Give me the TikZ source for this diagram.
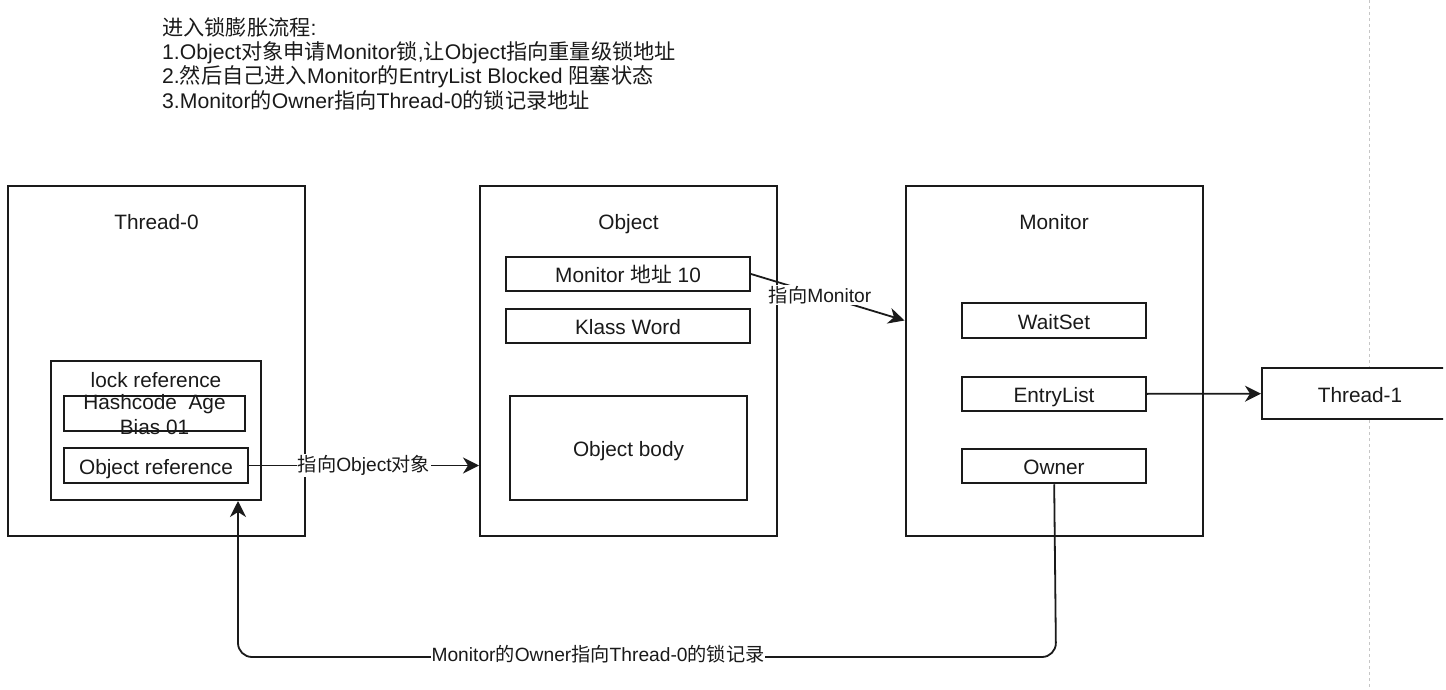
\documentclass[tikz,border=0pt]{standalone}
\usepackage{fontspec}
\setmainfont{Liberation Sans}
\newfontfamily\cjk{Noto Sans CJK SC}
\newcommand\zh[1]{{\cjk #1}}
\usetikzlibrary{arrows.meta}
\definecolor{ink}{HTML}{1A1A1A}
\tikzset{
  bigbox/.style={draw=ink, line width=2pt, fill=white, inner sep=0pt,
    minimum width=297pt, minimum height=350pt},
  field/.style={draw=ink, line width=2pt, fill=white, inner sep=0pt,
    text height=17.5pt, text depth=0.5pt, minimum width=#1, minimum height=34.5pt},
  field/.default=184pt,
  boxlabel/.style={anchor=center, text height=17.5pt, text depth=0.5pt},
  link/.style={draw=ink, line width=1.8pt, -{Stealth[length=16pt,width=16pt,inset=5pt]}},
  tag/.style={fill=white, inner sep=1pt, text=ink, font=\fontsize{19.2}{23}\selectfont}
}
\begin{document}
\begin{tikzpicture}[x=1pt, y=-1pt, font=\fontsize{20.8}{24.5}\selectfont, text=ink]
  \useasboundingbox (0,0) rectangle (1446,690);
  \clip (0,0) rectangle (1443,690);
  \draw[gray!45, line width=0.8pt, dash pattern=on 3pt off 3pt] (1369,0) -- (1369,690);
  \node[anchor=north west, align=left, inner sep=0pt, font=\fontsize{21.2}{24.4}\selectfont] (steps) at (162,17)
    {\zh{进入锁膨胀流程}:\\
     1.Object\zh{对象申请}Monitor\zh{锁},\zh{让}Object\zh{指向重量级锁地址}\\
     2.\zh{然后自己进入}Monitor\zh{的}EntryList Blocked \zh{阻塞状态}\\
     3.Monitor\zh{的}Owner\zh{指向}Thread-0\zh{的锁记录地址}};
  \node[bigbox, label={[boxlabel, yshift=-36pt]north:Thread-0}] (thread0) at (156.5,361) {};
  \node[draw=ink, line width=2pt, fill=white, minimum width=210pt, minimum height=139pt,
    label={[boxlabel, yshift=-19pt]north:lock reference}] (lockref) at (156,430.5) {};
  \node[field=181pt, label={[align=center, anchor=center, yshift=-1pt]center:Hashcode\ \ Age\\Bias 01}] (hashcode) at (154.5,413.5) {};
  \node[field] (objref) at (156,465.5) {Object reference};
  \node[bigbox, label={[boxlabel, yshift=-36pt]north:Object}] (object) at (628.5,361) {};
  \node[field=244pt] (addr) at (628,274) {Monitor \zh{地址} 10};
  \node[field=244pt] (klass) at (628,326) {Klass Word};
  \node[field=237pt, minimum height=104pt] (body) at (628.5,448) {Object body};
  \node[bigbox, label={[boxlabel, yshift=-36pt]north:Monitor}] (monitor) at (1054,361) {};
  \foreach \n/\y/\t in {waitset/320.5/WaitSet, entrylist/394/EntryList, owner/466/Owner}
    \node[field] (\n) at (1054,\y) {\t};
  \node[field=196pt, minimum height=51pt] (thread1) at (1360,393.5) {Thread-1};
  \coordinate (ownerdown) at (1056,657);
  \coordinate (lockup) at (238,657);
  \draw[link] (objref) -- (object.west |- objref) node[tag, pos=0.5] {\zh{指向}Object\zh{对象}};
  \draw[link] (addr.east) -- (monitor.west |- waitset) node[tag, pos=0.45] {\zh{指向}Monitor};
  \draw[link] (entrylist) -- (thread1);
  \draw[link, rounded corners=14pt] (owner) -- (ownerdown) -- (lockup) -- (lockref.south -| lockup);
  \node[tag] (ownerlabel) at (598,654) {Monitor\zh{的}Owner\zh{指向}Thread-0\zh{的锁记录}};
\end{tikzpicture}
\end{document}
